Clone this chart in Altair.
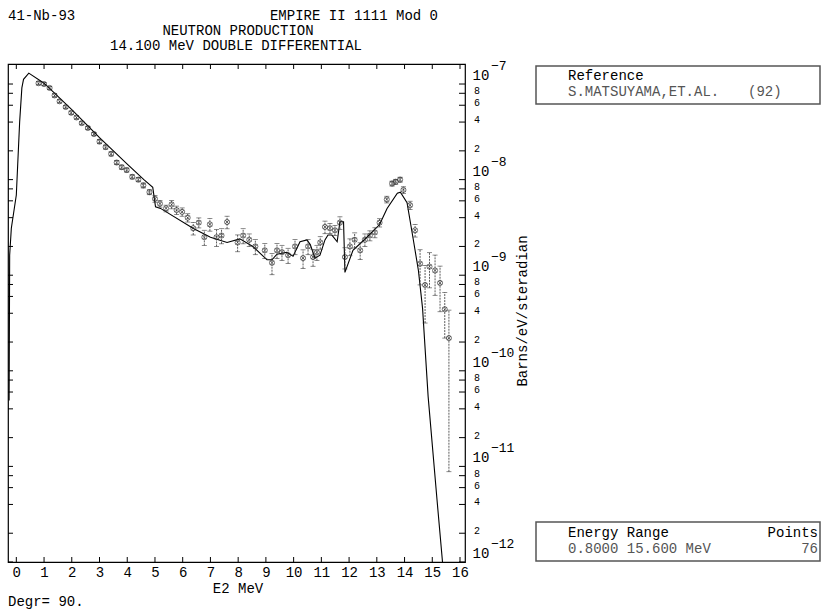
import altair as alt
import pandas as pd

FONT = "Liberation Mono"

# ---------------- data ----------------
curve_e = [-0.26, -0.24, -0.18, 0.00, 0.12, 0.20, 0.26, 0.45, 1.0, 2.0, 3.0, 4.0, 4.6, 4.92,
           5.02, 5.2, 6.37, 7.0, 7.6, 8.06, 8.53, 9.04, 9.22, 9.40, 9.75, 9.98, 10.23, 10.48,
           10.60, 10.77, 10.95, 11.13, 11.24, 11.38, 11.57, 11.67, 11.80, 11.85, 12.14, 12.65,
           13.10, 13.37, 13.74, 13.85, 14.09, 14.30, 14.50, 14.65, 14.85, 15.17, 15.40]
curve_v = [4.9e-11, 1.62e-9, 3.1e-9, 6.9e-9, 4.0e-8, 9.1e-8, 1.12e-7, 1.30e-7, 1.02e-7, 5.4e-8,
           2.75e-8, 1.45e-8, 1.0e-8, 8.3e-9, 5.2e-9, 5.0e-9, 3.1e-9, 2.5e-9, 2.2e-9, 2.4e-9,
           2.0e-9, 1.45e-9, 1.45e-9, 1.66e-9, 1.74e-9, 1.58e-9, 2.24e-9, 2.34e-9, 2.09e-9,
           1.51e-9, 1.62e-9, 2.34e-9, 2.63e-9, 2.63e-9, 2.24e-9, 3.63e-9, 3.63e-9, 1.07e-9,
           1.82e-9, 2.51e-9, 3.39e-9, 5.0e-9, 7.2e-9, 7.4e-9, 5.75e-9, 2.51e-9, 1.12e-9,
           4.5e-10, 5.4e-11, 4.5e-12, 7.9e-13]

exp_e = [0.80, 1.00, 1.20, 1.38, 1.56, 1.78, 1.98, 2.17, 2.36, 2.58, 2.80, 3.00, 3.22, 3.42,
         3.62, 3.80, 3.98, 4.18, 4.40, 4.58, 4.80, 5.00, 5.18, 5.40, 5.60, 5.78, 5.98, 6.18,
         6.38, 6.58, 6.78, 6.98, 7.22, 7.40, 7.60, 7.98, 8.18, 8.40, 8.62, 8.96, 9.22, 9.40,
         9.58, 9.80, 10.05, 10.34, 10.52, 10.70, 10.84, 10.96, 11.13, 11.31, 11.49, 11.67,
         11.85, 12.03, 12.20, 12.40, 12.57, 12.75, 12.93, 13.10, 13.36, 13.55, 13.68, 13.84,
         13.96, 14.20, 14.38, 14.56, 14.74, 14.90, 15.10, 15.28, 15.45, 15.60]
exp_v = [1.02e-7, 1.00e-7, 9.1e-8, 7.6e-8, 6.6e-8, 5.75e-8, 5.0e-8, 4.47e-8, 3.9e-8, 3.47e-8,
         3.0e-8, 2.5e-8, 2.19e-8, 1.86e-8, 1.51e-8, 1.35e-8, 1.26e-8, 1.07e-8, 1.0e-8, 8.7e-9,
         7.4e-9, 6.3e-9, 5.6e-9, 5.0e-9, 5.5e-9, 4.8e-9, 4.6e-9, 4.0e-9, 3.1e-9, 3.55e-9,
         2.5e-9, 3.4e-9, 2.5e-9, 2.6e-9, 3.6e-9, 2.2e-9, 2.6e-9, 2.35e-9, 2.0e-9, 1.82e-9,
         1.35e-9, 1.82e-9, 1.74e-9, 1.62e-9, 2.0e-9, 1.51e-9, 2.0e-9, 1.55e-9, 1.74e-9, 2.2e-9,
         3.2e-9, 3.1e-9, 2.95e-9, 3.55e-9, 1.55e-9, 2.0e-9, 2.35e-9, 1.82e-9, 2.35e-9, 2.6e-9,
         2.8e-9, 3.55e-9, 6.2e-9, 9.1e-9, 9.5e-9, 1.0e-8, 7.8e-9, 5.4e-9, 2.95e-9, 1.32e-9,
         7.9e-10, 1.23e-9, 1.12e-9, 8.3e-10, 4.4e-10, 2.2e-10]
exp_rel_err = [0.04, 0.04, 0.04, 0.04, 0.04, 0.04, 0.04, 0.04, 0.04, 0.04, 0.04, 0.05, 0.05,
               0.05, 0.05, 0.05, 0.05, 0.05, 0.05, 0.06, 0.06, 0.08, 0.08, 0.08, 0.10, 0.10,
               0.10, 0.10, 0.15, 0.12, 0.18, 0.15, 0.20, 0.18, 0.15, 0.20, 0.18, 0.15, 0.18,
               0.18, 0.25, 0.18, 0.18, 0.18, 0.18, 0.22, 0.18, 0.20, 0.18, 0.15, 0.15, 0.12,
               0.12, 0.15, 0.25, 0.20, 0.18, 0.20, 0.15, 0.12, 0.12, 0.10, 0.08, 0.06, 0.06,
               0.06, 0.08, 0.10, 0.15, 0.40, 0.60, 0.40, 0.45, 0.50, 0.50, 0.96]

x_ticks = list(range(0, 17))
y_decades = [1e-12, 1e-11, 1e-10, 1e-9, 1e-8, 1e-7]
y_exponents = ["\u221212", "\u221211", "\u221210", "\u22129", "\u22128", "\u22127"]
y_minor_mult = [2, 4, 6, 8]

# ---------------- geometry ----------------
W, H = 457, 498
PL, PT = 8, 64

curve = pd.DataFrame({"E": curve_e, "v": curve_v})
exp = pd.DataFrame({"E": exp_e, "v": exp_v, "r": exp_rel_err})
exp["lo"] = exp["v"] * (1 - exp["r"])
exp["hi"] = exp["v"] * (1 + exp["r"])

minor_rows = [{"v": m * d, "lab": str(m)} for d in y_decades[:-1] for m in y_minor_mult]
minor_df = pd.DataFrame(minor_rows)
dec_df = pd.DataFrame({"v": y_decades, "ex": y_exponents})
all_y_ticks = pd.DataFrame({"v": list(minor_df["v"]) + y_decades})
xt_df = pd.DataFrame({"E": x_ticks})

xscale = alt.Scale(domain=[-0.30, 16.18], nice=False, zero=False)
yscale = alt.Scale(type="log", domain=[1e-12, 1.62e-7], nice=False)

xaxis = alt.Axis(values=x_ticks, format="d", labelFont=FONT, labelFontSize=14,
                 labelColor="black", ticks=False, domain=False, grid=False, title=None,
                 labelPadding=3, labelFlush=False)


def X(field="E"):
    return alt.X(f"{field}:Q", scale=xscale, axis=xaxis)


def Y(field="v"):
    return alt.Y(f"{field}:Q", scale=yscale, axis=None)


line = alt.Chart(curve).mark_line(color="black", strokeWidth=1.1, clip=True).encode(
    x=X(), y=Y(), order="E:Q")

errbar = alt.Chart(exp).mark_rule(color="#333", strokeWidth=0.8, strokeDash=[2, 1]).encode(
    x=X(), y=Y("lo"), y2="hi:Q")
cap_lo = alt.Chart(exp).mark_tick(color="#333", orient="horizontal", size=5, thickness=0.8).encode(
    x=X(), y=Y("lo"))
cap_hi = alt.Chart(exp).mark_tick(color="#333", orient="horizontal", size=5, thickness=0.8).encode(
    x=X(), y=Y("hi"))
circ = alt.Chart(exp).mark_point(shape="circle", size=26, filled=False, color="#222",
                                 strokeWidth=0.9).encode(x=X(), y=Y())
xmark = alt.Chart(exp).mark_point(shape="M-1,-1L1,1M-1,1L1,-1", size=16, filled=False,
                                  color="#222", strokeWidth=0.8).encode(x=X(), y=Y())

# inward ticks on the frame
tick_top = alt.Chart(xt_df).mark_rule(color="black", strokeWidth=1).encode(
    x=X(), y=alt.value(0), y2=alt.value(5))
tick_bot = alt.Chart(xt_df).mark_rule(color="black", strokeWidth=1).encode(
    x=X(), y=alt.value(H - 5), y2=alt.value(H))
tick_left = alt.Chart(all_y_ticks).mark_rule(color="black", strokeWidth=1).encode(
    y=Y(), x=alt.value(0), x2=alt.value(5))
tick_right = alt.Chart(all_y_ticks).mark_rule(color="black", strokeWidth=1).encode(
    y=Y(), x=alt.value(W - 6), x2=alt.value(W))

# right axis labels
minor_lab = alt.Chart(minor_df).mark_text(font=FONT, fontSize=10, align="center",
                                          baseline="middle", dy=-2, color="black").encode(
    y=Y(), x=alt.value(W + 12), text="lab:N")
dec_lab = alt.Chart(dec_df).mark_text(font=FONT, fontSize=14, align="center",
                                      baseline="middle", dy=-8, color="black").encode(
    y=Y(), x=alt.value(W + 16), text=alt.value("10"))
exp_lab = alt.Chart(dec_df).mark_text(font=FONT, fontSize=13, align="left",
                                      baseline="middle", dy=-18, color="black").encode(
    y=Y(), x=alt.value(W + 26), text="ex:N")

one = pd.DataFrame({"a": [0]})


def txt(s, x, y, size=14, align="left", color="black", angle=0):
    kw = dict(font=FONT, fontSize=size, align=align, baseline="middle", color=color)
    if angle:
        kw["angle"] = angle
    return alt.Chart(one).mark_text(**kw).encode(
        x=alt.value(x - PL), y=alt.value(y - PT), text=alt.value(s))


def box(x1, y1, x2, y2):
    return alt.Chart(one).mark_rect(fill="white", stroke="#555", strokeWidth=1.5).encode(
        x=alt.value(x1 - PL), x2=alt.value(x2 - PL), y=alt.value(y1 - PT), y2=alt.value(y2 - PT))


texts = [
    txt("41-Nb-93", 8, 16),
    txt("EMPIRE II 1111 Mod 0", 438, 16, align="right"),
    txt("NEUTRON PRODUCTION", 238, 31, align="center"),
    txt("14.100 MeV DOUBLE DIFFERENTIAL", 236, 46, align="center"),
    txt("E2 MeV", 238, 589, align="center"),
    txt("Degr= 90.", 8, 602),
    txt("Barns/eV/steradian", 523, 311, size=14, align="center", angle=270),
    box(536, 66, 820, 104),
    txt("Reference", 568, 76),
    txt("S.MATSUYAMA,ET.AL.", 568, 92, color="#555"),
    txt("(92)", 748, 92, color="#555"),
    box(536, 522, 820, 561),
    txt("Energy Range", 568, 533),
    txt("Points", 818, 533, align="right"),
    txt("0.8000  15.600 MeV", 568, 549, color="#555"),
    txt("76", 818, 549, align="right", color="#555"),
]

chart = alt.layer(
    line, errbar, cap_lo, cap_hi, circ, xmark,
    tick_top, tick_bot, tick_left, tick_right,
    minor_lab, dec_lab, exp_lab, *texts
).properties(
    width=W, height=H,
    autosize=alt.AutoSizeParams(type="none"),
    padding={"left": PL, "top": PT, "right": 822 - PL - W, "bottom": 613 - PT - H},
    background="white",
).configure_view(stroke="black", strokeWidth=1.2)

chart.save("out.html", embed_options={"renderer": "svg", "actions": False})
